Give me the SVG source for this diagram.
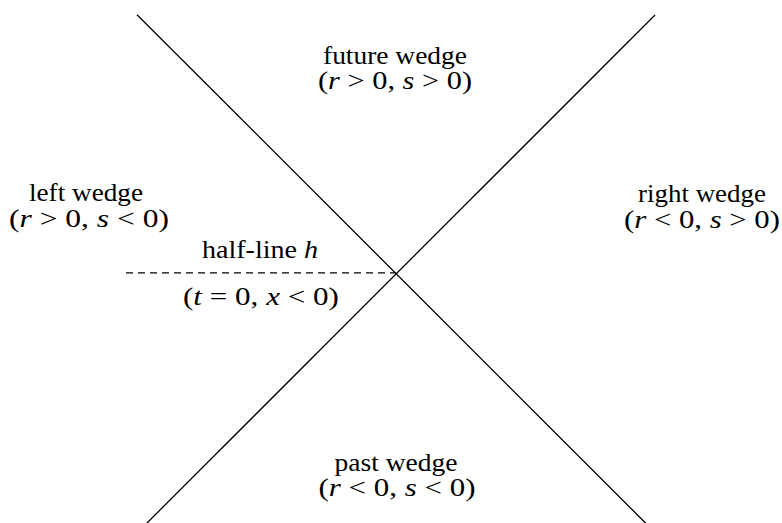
<svg xmlns="http://www.w3.org/2000/svg" width="782" height="523" viewBox="0 0 782 523">
<style>
.lbl{font-family:"Liberation Serif","DejaVu Serif",serif;font-size:25px;fill:#000;text-anchor:middle}
.m{font-style:italic}
.ln{stroke:#000;stroke-width:1.3;fill:none}
.dash{stroke:#000;stroke-width:1.3;fill:none;stroke-dasharray:7 5}
</style>
<rect width="782" height="523" fill="#fff"/>
<g id="connectors">
<line class="ln" x1="137" y1="14.7" x2="646.5" y2="524"/>
<line class="ln" x1="655" y1="15" x2="146" y2="524"/>
<line class="dash" x1="126" y1="272.8" x2="396" y2="272.8"/>
</g>
<g id="future">
<text class="lbl" x="395" y="64" textLength="144" lengthAdjust="spacingAndGlyphs">future wedge</text>
<text class="lbl" x="395" y="89" textLength="154" lengthAdjust="spacingAndGlyphs">(<tspan class="m">r</tspan> &gt; 0, <tspan class="m">s</tspan> &gt; 0)</text>
</g>
<g id="left">
<text class="lbl" x="86" y="201" textLength="114" lengthAdjust="spacingAndGlyphs">left wedge</text>
<text class="lbl" x="89" y="227" textLength="160" lengthAdjust="spacingAndGlyphs">(<tspan class="m">r</tspan> &gt; 0, <tspan class="m">s</tspan> &lt; 0)</text>
</g>
<g id="right">
<text class="lbl" x="702" y="202" textLength="128" lengthAdjust="spacingAndGlyphs">right wedge</text>
<text class="lbl" x="702" y="228" textLength="156" lengthAdjust="spacingAndGlyphs">(<tspan class="m">r</tspan> &lt; 0, <tspan class="m">s</tspan> &gt; 0)</text>
</g>
<g id="halfline">
<text class="lbl" x="260" y="258" textLength="116" lengthAdjust="spacingAndGlyphs">half-line <tspan class="m">h</tspan></text>
<text class="lbl" x="261" y="305" textLength="156" lengthAdjust="spacingAndGlyphs">(<tspan class="m">t</tspan> = 0, <tspan class="m">x</tspan> &lt; 0)</text>
</g>
<g id="past">
<text class="lbl" x="396" y="471" textLength="123" lengthAdjust="spacingAndGlyphs">past wedge</text>
<text class="lbl" x="397" y="496" textLength="157" lengthAdjust="spacingAndGlyphs">(<tspan class="m">r</tspan> &lt; 0, <tspan class="m">s</tspan> &lt; 0)</text>
</g>
</svg>
